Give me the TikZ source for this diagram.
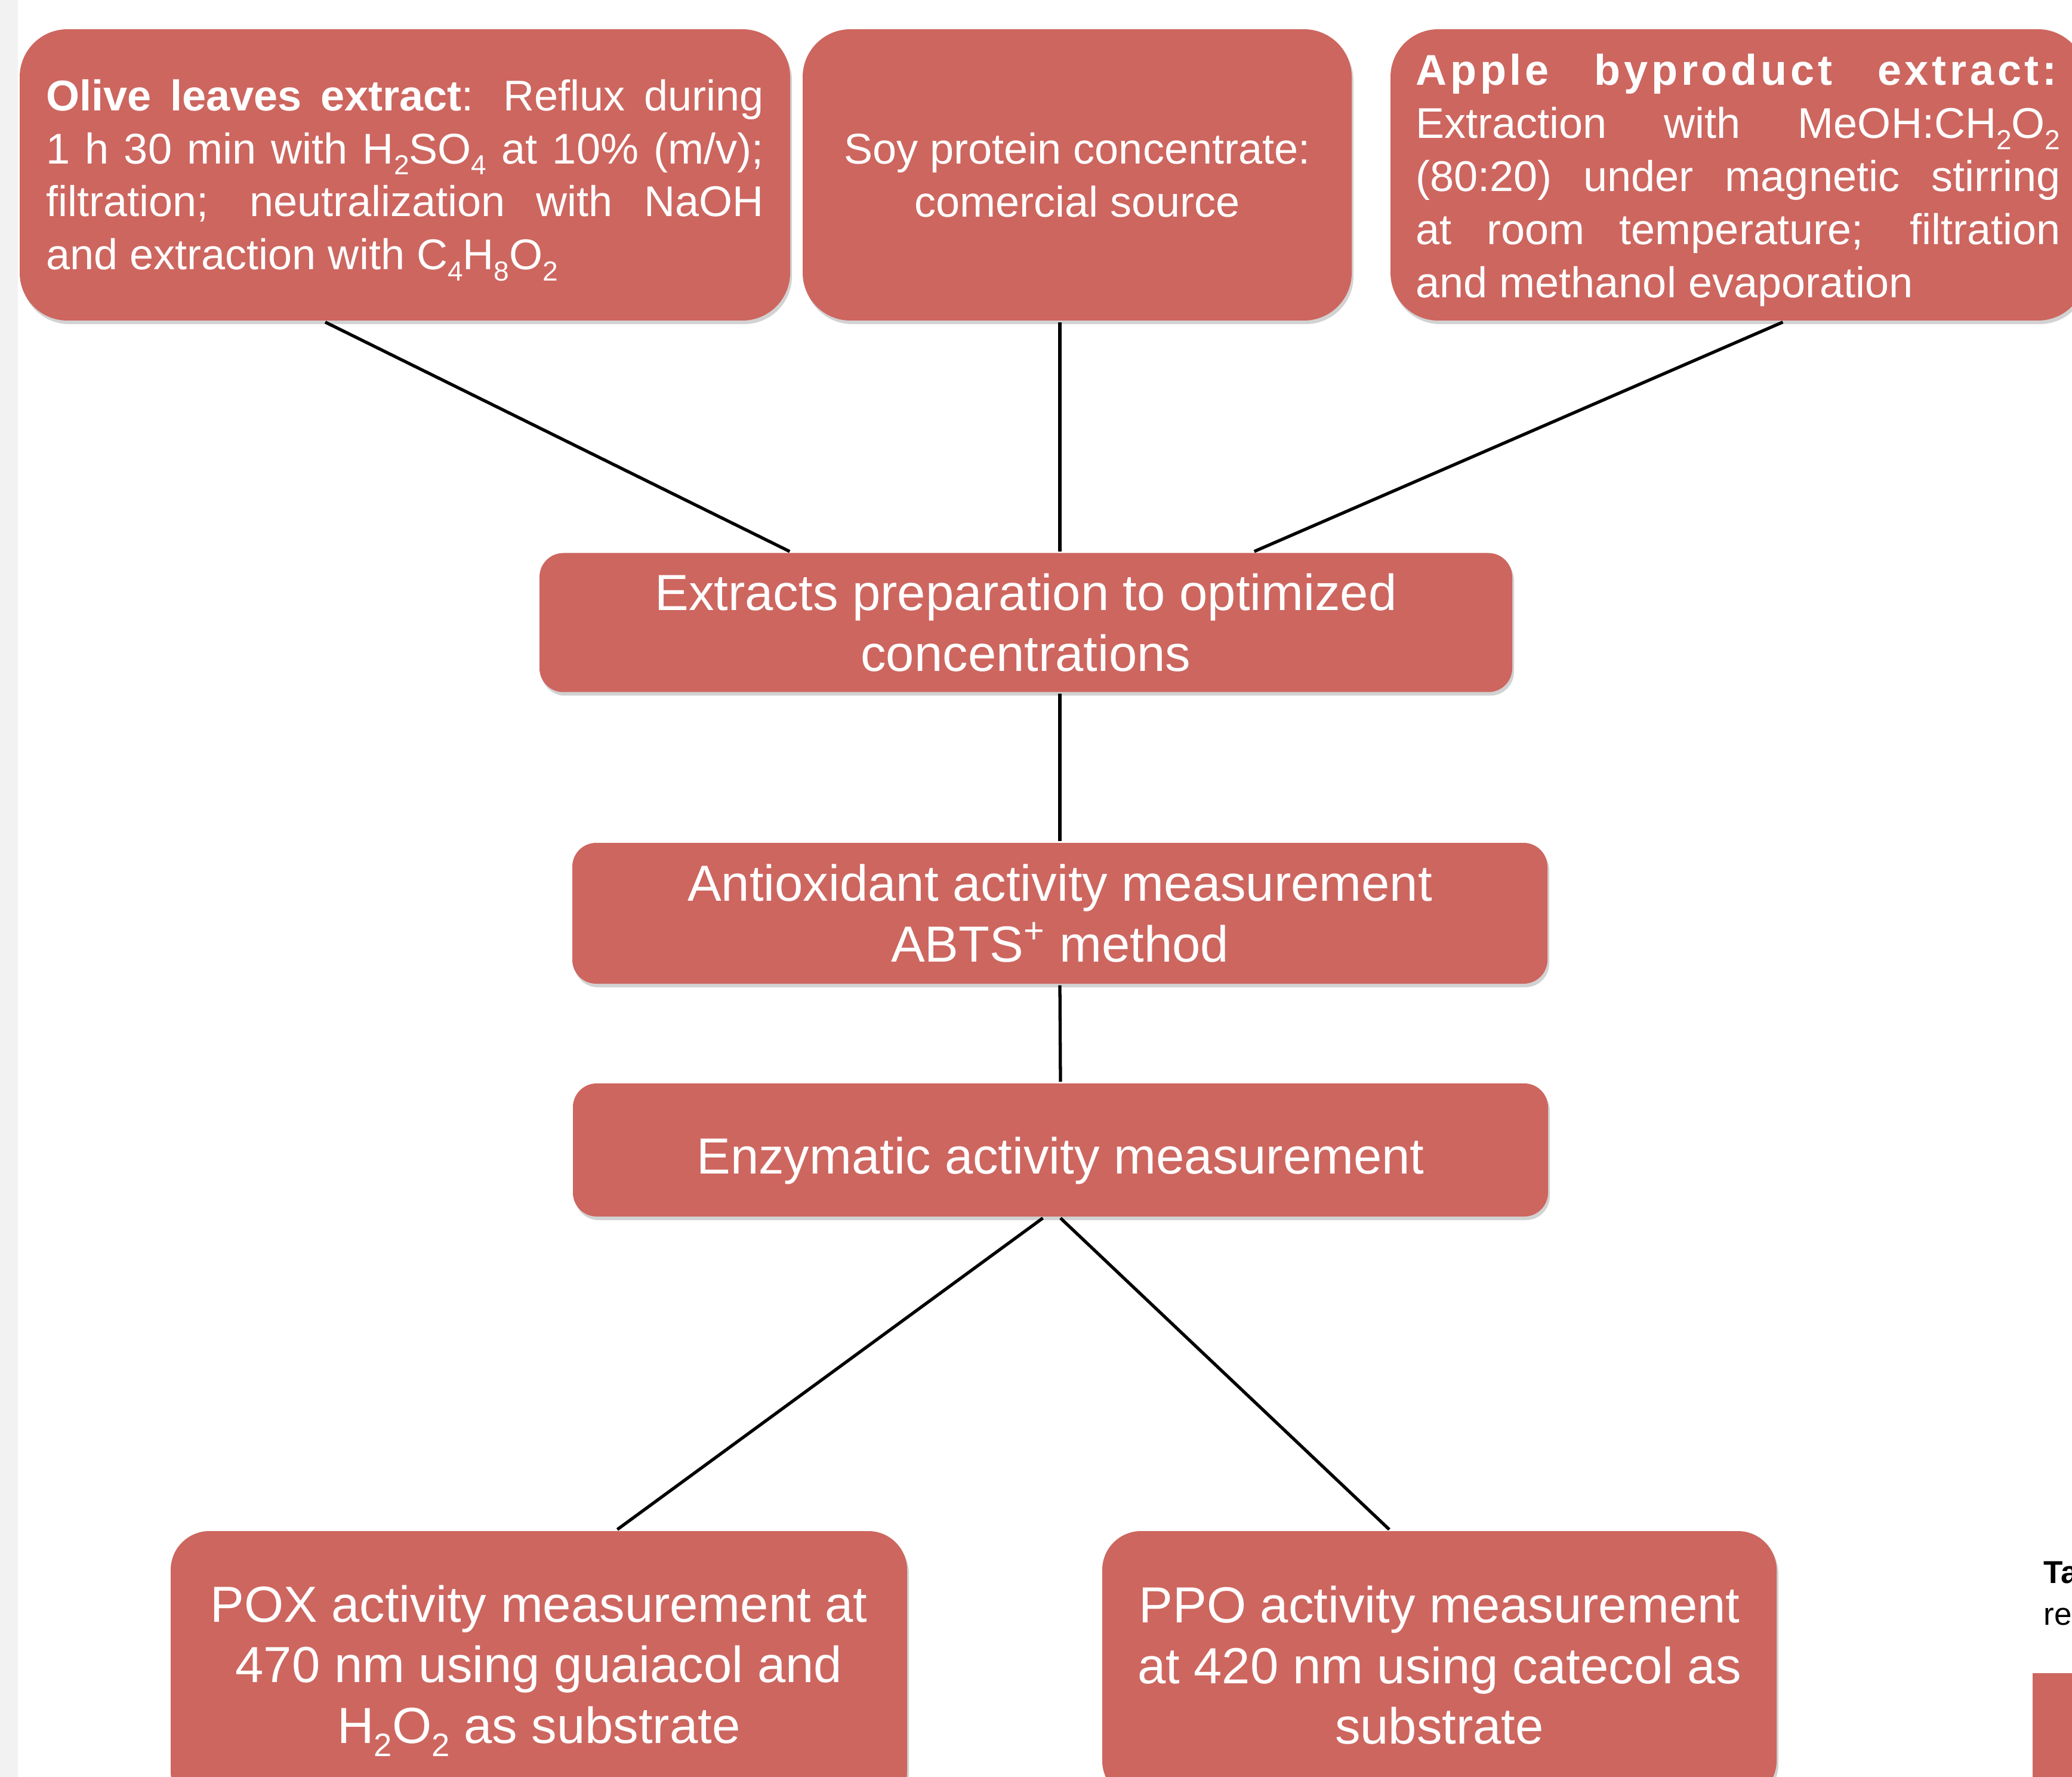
\documentclass[tikz,border=0pt]{standalone}
\usepackage{fontspec}
\setmainfont{Liberation Sans}
\usetikzlibrary{calc,shadows}
\definecolor{boxred}{RGB}{205,102,95}
\definecolor{stripgray}{RGB}{242,242,242}
\hyphenpenalty=10000
\exhyphenpenalty=10000
\hbadness=10000
\newcommand{\chemsub}[1]{\raisebox{-0.26em}{\scalebox{0.64}{#1}}}
\newcommand{\lowered}[2]{\raisebox{-#1}[\height][\depth]{#2}}

\begin{document}
\begin{tikzpicture}[line width=1.5pt,
box/.style={fill=boxred, text=white, inner sep=0pt, rounded corners=0.4cm,
drop shadow={shadow xshift=0.03cm, shadow yshift=-0.06cm, opacity=0.35}},
srcbox/.style={box, rounded corners=0.8cm, minimum height=4.88cm,
font=\fontsize{20.5pt}{25.3pt}\selectfont},
stepbox/.style={box, align=center, font=\fontsize{24.2pt}{28.9pt}\selectfont},
endbox/.style={stepbox, rounded corners=0.65cm, minimum height=4.68cm}]
  \useasboundingbox (0,0) rectangle (34.72,-29.77);
  \fill[white] (0,0) rectangle (34.72,-29.77);
  \fill[stripgray] (0,0) rectangle (0.30,-29.77);
  % sources
  \node[srcbox, minimum width=12.91cm] (src1) at (6.785,-2.93)
    {\lowered{0.09cm}{\parbox{12.02cm}{\textbf{Olive leaves extract}: Reflux during\linebreak 1 h 30 min with H\chemsub{2}SO\chemsub{4} at 10\% (m/v);\linebreak filtration; neutralization with NaOH\linebreak and extraction with C\chemsub{4}H\chemsub{8}O\chemsub{2}}}};
  \node[srcbox, minimum width=9.20cm, align=center] (src2) at (18.05,-2.93)
    {Soy protein concentrate:\\ comercial source};
  \node[srcbox, minimum width=11.65cm] (src3) at (29.125,-2.93)
    {\lowered{0.09cm}{\parbox{10.80cm}{{\addfontfeature{LetterSpace=8}\textbf{Apple byproduct extract:}}\linebreak Extraction with MeOH:CH\chemsub{2}O\chemsub{2}\linebreak (80:20) under magnetic stirring\linebreak at room temperature; filtration\linebreak and methanol evaporation}}};
  % steps
  \node[stepbox, minimum width=16.30cm, minimum height=2.33cm] (prep) at (17.19,-10.43)
    {Extracts preparation to optimized\\ concentrations};
  \node[stepbox, minimum width=16.34cm, minimum height=2.36cm] (anti) at (17.76,-15.30)
    {Antioxidant activity measurement\\ ABTS\textsuperscript{+} method};
  \node[stepbox, minimum width=16.34cm, minimum height=2.23cm] (enz) at (17.77,-19.265)
    {\lowered{0.18cm}{Enzymatic activity measurement}};
  % assays
  \node[endbox, minimum width=12.34cm] (pox) at (9.03,-27.99)
    {POX activity measurement at\\ 470 nm using guaiacol and\\ H\chemsub{2}O\chemsub{2} as substrate};
  \node[endbox, minimum width=11.30cm, minimum height=4.5cm] (ppo) at (24.12,-27.90)
    {PPO activity measurement\\ at 420 nm using catecol as\\ substrate};
  % cut-off table at the edge
  \node[fill=boxred, minimum width=1.2cm, minimum height=2.5cm, anchor=north west] (tab) at (34.03,-28.00) {};
  \node[anchor=base west, inner sep=0pt, font=\fontsize{15.1pt}{18pt}\selectfont\bfseries] (tabhead) at (34.22,-26.52) {Ta};
  \node[anchor=base west, inner sep=0pt, font=\fontsize{15.1pt}{18pt}\selectfont] (tabtext) at (34.22,-27.22) {re};

  \coordinate (o1) at ($(src1.south west)!0.397!(src1.south east)$);
  \coordinate (o2) at ($(prep.north west)!0.258!(prep.north east)$);
  \coordinate (s1) at (src2.south -| anti.north);
  \coordinate (s2) at (prep.north -| anti.north);
  \coordinate (a1) at ($(src3.south west)!0.564!(src3.south east)$);
  \coordinate (a2) at ($(prep.north west)!0.734!(prep.north east)$);
  \coordinate (p1) at (prep.south -| anti.north);
  \coordinate (e1) at ($(enz.south west)!0.482!(enz.south east)$);
  \coordinate (x1) at ($(pox.north west)!0.606!(pox.north east)$);
  \coordinate (x2) at ($(ppo.north west)!0.426!(ppo.north east)$);

\foreach \from/\to in {o1/o2,s1/s2,a1/a2,p1/anti.north,anti.south/enz.north,e1/x1,enz.south/x2}
    \draw (\from) -- (\to);
\end{tikzpicture}
\end{document}
